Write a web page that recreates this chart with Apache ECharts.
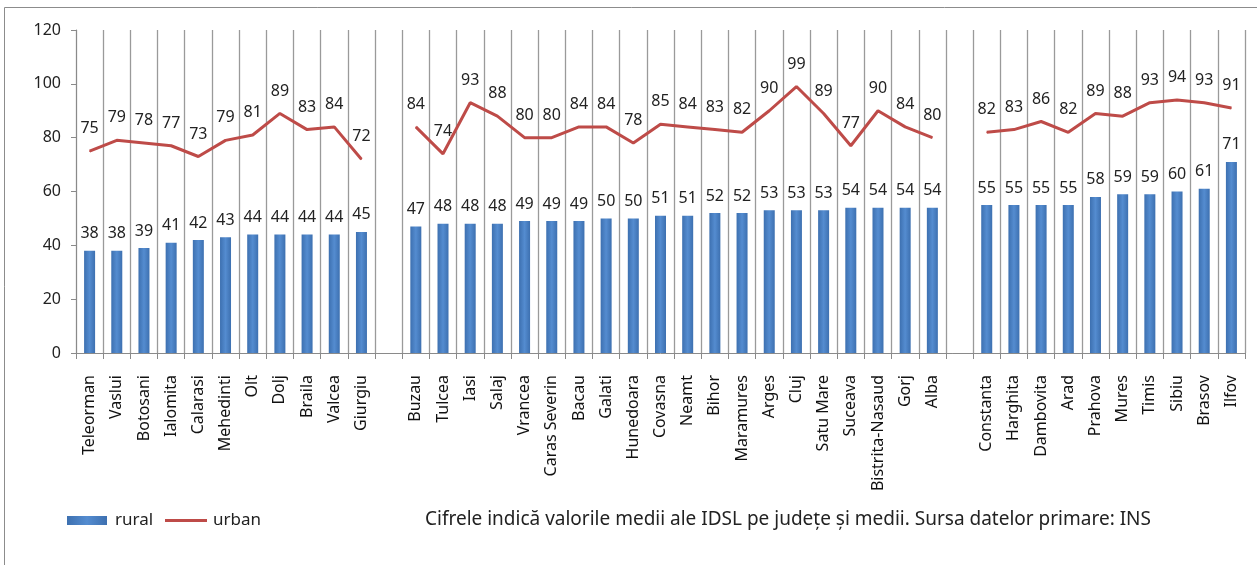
<!DOCTYPE html>
<html>
<head>
<meta charset="utf-8">
<script src="https://cdn.jsdelivr.net/npm/echarts@6/dist/echarts.min.js"></script>
<style>html,body{margin:0;padding:0;background:#fff;}#c{width:1257px;height:565px;}</style>
</head>
<body>
<div id="c"></div>
<script>
// '' entries are the empty spacer slots between the three county groups
var categories = ['Teleorman','Vaslui','Botosani','Ialomita','Calarasi','Mehedinti','Olt','Dolj','Braila','Valcea','Giurgiu','',
  'Buzau','Tulcea','Iasi','Salaj','Vrancea','Caras Severin','Bacau','Galati','Hunedoara','Covasna','Neamt','Bihor','Maramures','Arges','Cluj','Satu Mare','Suceava','Bistrita-Nasaud','Gorj','Alba','',
  'Constanta','Harghita','Dambovita','Arad','Prahova','Mures','Timis','Sibiu','Brasov','Ilfov'];
var rural = [38,38,39,41,42,43,44,44,44,44,45,'-',
  47,48,48,48,49,49,49,50,50,51,51,52,52,53,53,53,54,54,54,54,'-',
  55,55,55,55,58,59,59,60,61,71];
var urban = [75,79,78,77,73,79,81,89,83,84,72,'-',
  84,74,93,88,80,80,84,84,78,85,84,83,82,90,99,89,77,90,84,80,'-',
  82,83,86,82,89,88,93,94,93,91];
var yTicks = {min:0, max:120, interval:20};
var note = 'Cifrele indică valorile medii ale IDSL pe județe și medii. Sursa datelor primare: INS';

var FONT = 'Noto Sans';
var RED = '#be4b48';
var chart = echarts.init(document.getElementById('c'), null, {renderer:'canvas'});
chart.setOption({
  animation:false,
  textStyle:{fontFamily:FONT},
  grid:{left:76, right:12, top:30, bottom:212, containLabel:false},
  graphic:[
    {type:'rect', shape:{x:4.5, y:7.5, width:1400, height:700}, style:{fill:'none', stroke:'#8c8c8c', lineWidth:1}, z:-1},
    {type:'text', left:425, top:510, style:{text:note, font:'19px "Noto Sans"', fill:'#222'}}
  ],
  legend:[
    {left:67, top:512, padding:0, itemWidth:40, itemHeight:9, itemGap:8,
     textStyle:{fontSize:17, color:'#222', fontFamily:FONT, padding:[0,0,0,3]},
     data:[{name:'rural', icon:'rect'}]},
    {left:165, top:512, padding:0, itemWidth:42, itemHeight:3, itemGap:8,
     textStyle:{fontSize:17, color:'#222', fontFamily:FONT, padding:[0,0,0,1]},
     data:[{name:'urban', icon:'rect', itemStyle:{color:RED}}]}
  ],
  xAxis:{
    type:'category', data:categories, boundaryGap:true,
    axisLine:{lineStyle:{color:'#8a8a8a', width:1}},
    axisTick:{show:true, interval:0, length:6, lineStyle:{color:'#8a8a8a'}},
    splitLine:{show:true, interval:0, lineStyle:{color:'#9a9a9a', width:1.3}},
    axisLabel:{interval:0, rotate:90, fontSize:16, color:'#111', margin:22, fontFamily:FONT}
  },
  yAxis:{
    type:'value', min:yTicks.min, max:yTicks.max, interval:yTicks.interval,
    axisLine:{show:true, lineStyle:{color:'#8a8a8a'}},
    axisTick:{show:true, length:5, lineStyle:{color:'#8a8a8a'}},
    splitLine:{show:false},
    axisLabel:{fontSize:16, color:'#222', margin:15, fontFamily:FONT}
  },
  series:[
    {name:'rural', type:'bar', data:rural, barWidth:11,
     itemStyle:{color:new echarts.graphic.LinearGradient(0,0,1,0,[
        {offset:0,color:'#3d70b0'},{offset:0.5,color:'#548cd0'},{offset:1,color:'#3d70b0'}])},
     label:{show:true, position:'top', distance:9, fontSize:16, color:'#222', fontFamily:FONT}},
    {name:'urban', type:'line', data:urban, symbol:'circle', symbolSize:1, showSymbol:true, connectNulls:false,
     lineStyle:{color:RED, width:3}, itemStyle:{color:RED},
     labelLayout:{hideOverlap:false},
     label:{show:true, position:'top', distance:14, fontSize:16, color:'#222', fontFamily:FONT}}
  ]
});
</script>
</body>
</html>
